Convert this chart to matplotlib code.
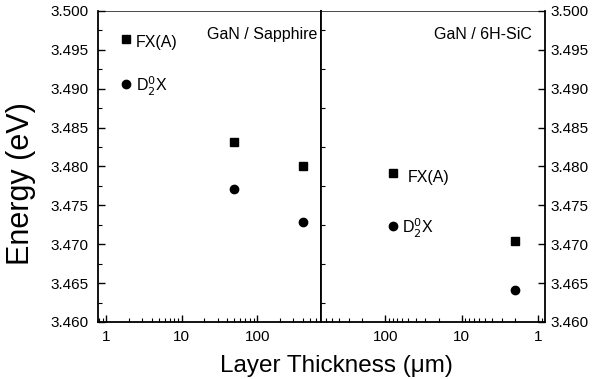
import matplotlib.pyplot as plt
import matplotlib.ticker as mticker

plt.rcParams['font.family'] = ['Liberation Sans', 'DejaVu Sans']

# GaN / Sapphire
sap_thick = [50, 400]
sap_fx = [3.4831, 3.4800]
sap_d2x = [3.4771, 3.4728]

# GaN / 6H-SiC
sic_thick = [80, 2.05]
sic_fx = [3.4792, 3.4704]
sic_d2x = [3.4724, 3.4641]

# legend-like markers in left panel
key_x = 1.85
key_fx = 3.4964
key_d2x = 3.4906

fig = plt.figure(figsize=(5.92, 3.79), dpi=100)
ax1 = fig.add_axes([0.1655, 0.1504, 0.3767, 0.8206])
ax2 = fig.add_axes([0.5422, 0.1504, 0.3784, 0.8206])

for ax in (ax1, ax2):
    ax.set_xscale('log')
    ax.set_ylim(3.460, 3.500)
    ax.yaxis.set_major_locator(mticker.MultipleLocator(0.005))
    ax.yaxis.set_minor_locator(mticker.MultipleLocator(0.0025))
    ax.yaxis.set_major_formatter(mticker.FormatStrFormatter('%.3f'))
    ax.xaxis.set_major_locator(mticker.LogLocator(base=10))
    ax.xaxis.set_major_formatter(mticker.FuncFormatter(lambda v, p: '%d' % v))
    ax.tick_params(which='both', direction='in', labelsize=11)
    ax.tick_params(which='major', length=5, width=1)
    ax.tick_params(which='minor', length=3, width=0.8)
    ax.tick_params(axis='x', which='major', pad=6)
    for s in ax.spines.values():
        s.set_linewidth(1.3)
    ax.spines['top'].set_linewidth(0.5)

ax1.set_xlim(0.78, 700)
ax2.set_xlim(690, 0.82)

ax1.plot(sap_thick, sap_fx, 's', color='black', ms=5.5)
ax1.plot(sap_thick, sap_d2x, 'o', color='black', ms=6)
ax1.plot([key_x], [key_fx], 's', color='black', ms=5.5)
ax1.plot([key_x], [key_d2x], 'o', color='black', ms=6)
ax1.annotate('FX(A)', (key_x, key_fx), xytext=(9, -4), textcoords='offset pixels',
             fontsize=11.5, va='center')
ax1.annotate(r'D$_2^0$X', (key_x, key_d2x), xytext=(10, -2), textcoords='offset pixels',
             fontsize=11.5, va='center')
ax1.text(0.985, 0.925, 'GaN / Sapphire', transform=ax1.transAxes, fontsize=11.5,
         ha='right', va='center')

ax2.plot(sic_thick, sic_fx, 's', color='black', ms=5.5)
ax2.plot(sic_thick, sic_d2x, 'o', color='black', ms=6)
ax2.annotate('FX(A)', (sic_thick[0], sic_fx[0]), xytext=(15, -5), textcoords='offset pixels',
             fontsize=11.5, va='center')
ax2.annotate(r'D$_2^0$X', (sic_thick[0], sic_d2x[0]), xytext=(9, -3), textcoords='offset pixels',
             fontsize=11.5, va='center')
ax2.text(0.94, 0.925, 'GaN / 6H-SiC', transform=ax2.transAxes, fontsize=11.5,
         ha='right', va='center')

ax1.tick_params(axis='y', right=False, pad=7)
ax2.tick_params(axis='y', left=False, labelleft=False, right=True, labelright=True, pad=4)

fig.text(0.036, 0.516, 'Energy (eV)', fontsize=22, rotation=90, ha='center', va='center')
fig.text(0.568, 0.005, 'Layer Thickness (\u03bcm)', fontsize=17.5, ha='center', va='bottom')

fig.savefig('out.png', dpi=100)
